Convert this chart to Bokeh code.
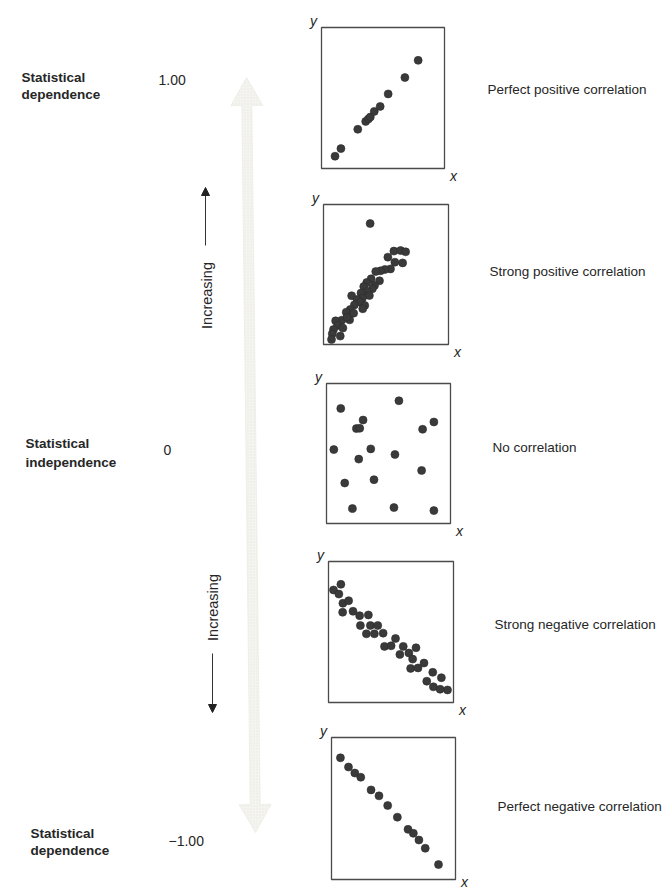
import numpy as np
from bokeh.plotting import figure
from bokeh.models import Range1d, Arrow, NormalHead
from bokeh.core.properties import value
from bokeh.embed import file_html
from bokeh.resources import INLINE

# ---------------- data (unit coordinates inside each panel) ----------------
perfect_pos_x = [0.110, 0.158, 0.295, 0.359, 0.381, 0.397, 0.429, 0.477, 0.542, 0.678, 0.786]
perfect_pos_y = [0.087, 0.141, 0.278, 0.334, 0.351, 0.365, 0.405, 0.440, 0.529, 0.645, 0.767]

strong_pos_x = [0.373, 0.563, 0.617, 0.657, 0.515, 0.571, 0.633, 0.536, 0.491, 0.456, 0.418,
                0.381, 0.448, 0.346, 0.408, 0.322, 0.391, 0.351, 0.300, 0.225, 0.367, 0.311,
                0.268, 0.295, 0.247, 0.330, 0.214, 0.314, 0.182, 0.241, 0.209, 0.147, 0.097,
                0.113, 0.080, 0.155, 0.070, 0.134, 0.064, 0.188]
strong_pos_y = [0.864, 0.667, 0.671, 0.662, 0.624, 0.588, 0.583, 0.540, 0.536, 0.526, 0.521,
                0.469, 0.455, 0.443, 0.421, 0.414, 0.398, 0.379, 0.367, 0.348, 0.350, 0.331,
                0.321, 0.302, 0.283, 0.279, 0.250, 0.255, 0.231, 0.224, 0.176, 0.174, 0.169,
                0.136, 0.107, 0.117, 0.076, 0.060, 0.036, 0.195]

no_corr_x = [0.115, 0.584, 0.295, 0.241, 0.268, 0.866, 0.775, 0.059, 0.357, 0.552, 0.260,
             0.767, 0.147, 0.383, 0.209, 0.544, 0.866]
no_corr_y = [0.822, 0.877, 0.739, 0.678, 0.680, 0.725, 0.673, 0.528, 0.533, 0.493, 0.460,
             0.379, 0.289, 0.313, 0.107, 0.114, 0.092]

strong_neg_x = [0.040, 0.099, 0.083, 0.115, 0.161, 0.113, 0.196, 0.249, 0.319, 0.255, 0.335,
                0.394, 0.303, 0.367, 0.437, 0.448, 0.501, 0.536, 0.598, 0.571, 0.643, 0.700,
                0.673, 0.657, 0.716, 0.764, 0.834, 0.786, 0.903, 0.839, 0.893, 0.952]
strong_neg_y = [0.798, 0.838, 0.769, 0.704, 0.722, 0.640, 0.647, 0.616, 0.621, 0.546, 0.546,
                0.546, 0.487, 0.487, 0.492, 0.398, 0.402, 0.454, 0.398, 0.341, 0.351, 0.388,
                0.308, 0.242, 0.245, 0.280, 0.214, 0.151, 0.176, 0.111, 0.094, 0.089]

perfect_neg_x = [0.072, 0.137, 0.188, 0.236, 0.319, 0.383, 0.453, 0.531, 0.617, 0.660, 0.705, 0.756, 0.863]
perfect_neg_y = [0.857, 0.792, 0.750, 0.720, 0.631, 0.589, 0.521, 0.439, 0.353, 0.325, 0.278, 0.220, 0.105]

panel_x = [perfect_pos_x, strong_pos_x, no_corr_x, strong_neg_x, perfect_neg_x]
panel_y = [perfect_pos_y, strong_pos_y, no_corr_y, strong_neg_y, perfect_neg_y]

row_labels = ["Perfect positive correlation", "Strong positive correlation", "No correlation",
              "Strong negative correlation", "Perfect negative correlation"]
scale_values = ["1.00", "0", "\u22121.00"]
scale_line1 = ["Statistical", "Statistical", "Statistical"]
scale_line2 = ["dependence", "independence", "dependence"]
direction_label = "Increasing"

# ---------------- layout (page pixel positions) ----------------
W, H = 664, 888
box_left = [321, 323, 326, 328, 331]
box_right = [444, 448, 450, 453, 455]
box_top = [27, 204, 383, 561, 737]
box_bottom = [168, 344, 523, 702, 879]
label_x = [487, 489, 492, 494, 497]
label_y = [89, 271, 447, 624, 806]

p = figure(width=W, height=H, x_range=Range1d(0, W), y_range=Range1d(H, 0),
           output_backend="svg", toolbar_location=None, min_border=0)
p.xaxis.visible = False
p.yaxis.visible = False
p.xgrid.visible = False
p.ygrid.visible = False
p.outline_line_color = None
p.background_fill_color = "white"

FONT = value("Liberation Sans")
TXT = "#262626"

# big faint double arrow
top_tip = np.array([246.0, 77.0])
bot_tip = np.array([255.0, 832.0])
head_len, head_half, shaft_half = 28.0, 16.0, 5.0
d = (bot_tip - top_tip) / np.linalg.norm(bot_tip - top_tip)
n = np.array([-d[1], d[0]])
a = top_tip + d * head_len
b = bot_tip - d * head_len
poly = [top_tip, a + n * head_half, a + n * shaft_half, b + n * shaft_half, b + n * head_half,
        bot_tip, b - n * head_half, b - n * shaft_half, a - n * shaft_half, a - n * head_half]
p.patch([q[0] for q in poly], [q[1] for q in poly], fill_color="#f4f4f0", line_color="#ececE6",
        line_width=0.8, hatch_pattern="dot", hatch_color="#dedcd2", hatch_scale=3, hatch_alpha=0.5)

# small arrows with "Increasing"
p.add_layout(Arrow(end=NormalHead(size=8, fill_color="#222", line_color="#222"),
                   x_start=205, y_start=245, x_end=205, y_end=187, line_color="#333", line_width=1))
p.add_layout(Arrow(end=NormalHead(size=8, fill_color="#222", line_color="#222"),
                   x_start=212, y_start=653, x_end=212, y_end=712, line_color="#333", line_width=1))
p.text(x=[206, 212], y=[295, 607], text=[direction_label, direction_label], angle=np.pi / 2,
       text_align="center", text_baseline="middle", text_font=FONT, text_font_size="14.5px",
       text_color=TXT)

# left column labels
p.text(x=[21, 25, 30], y=[77, 443, 833], text=scale_line1, text_font=FONT, text_font_style="bold",
       text_font_size="13.5px", text_baseline="middle", text_color=TXT)
p.text(x=[21, 25, 30], y=[94, 462, 850], text=scale_line2, text_font=FONT, text_font_style="bold",
       text_font_size="13.5px", text_baseline="middle", text_color=TXT)
p.text(x=[158, 163, 168], y=[79, 449, 840], text=scale_values, text_font=FONT,
       text_font_size="14px", text_baseline="middle", text_color=TXT)

# right column labels
p.text(x=label_x, y=label_y, text=row_labels, text_font=FONT, text_font_size="13.5px",
       text_baseline="middle", text_color=TXT)

# panels
xr, yr = {}, {}
for i in range(5):
    L, R, T, B = box_left[i], box_right[i], box_top[i], box_bottom[i]
    xr[f"px{i}"] = Range1d((0 - L) / (R - L), (W - L) / (R - L))
    yr[f"py{i}"] = Range1d((B - H) / (B - T), (B - 0) / (B - T))
p.extra_x_ranges = xr
p.extra_y_ranges = yr

for i in range(5):
    kw = dict(x_range_name=f"px{i}", y_range_name=f"py{i}")
    p.quad(left=[0], right=[1], bottom=[0], top=[1], fill_color=None, line_color="#4a4a4a",
           line_width=1.3, **kw)
    p.scatter(panel_x[i], panel_y[i], size=8, fill_color="#3a3a3a", line_color="#2c2c2c",
              line_width=0.6, **kw)

# axis letters
p.text(x=[l - 8 for l in box_left], y=[t - 7 for t in box_top], text=["y"] * 5, text_font=FONT,
       text_font_style="italic", text_font_size="14px", text_align="center",
       text_baseline="middle", text_color=TXT)
p.text(x=[r + 9 for r in box_right], y=[min(b + 7, H - 7) for b in box_bottom], text=["x"] * 5,
       text_font=FONT, text_font_style="italic", text_font_size="14px", text_align="center",
       text_baseline="middle", text_color=TXT)

open("out.html", "w").write(file_html(p, INLINE))
